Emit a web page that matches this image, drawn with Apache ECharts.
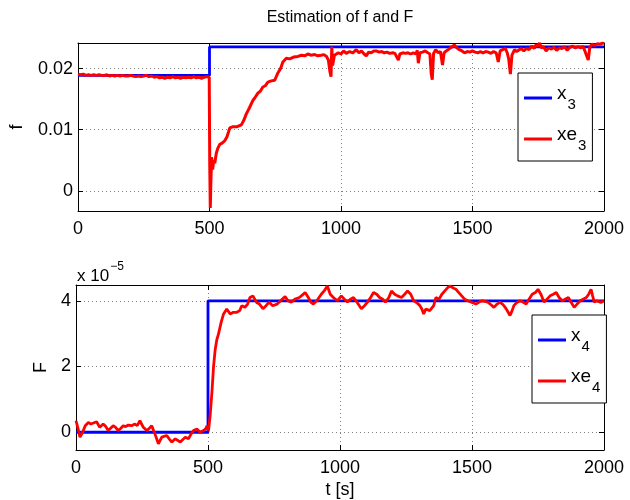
<!DOCTYPE html>
<html>
<head>
<meta charset="utf-8">
<script src="https://cdn.jsdelivr.net/npm/echarts@6/dist/echarts.min.js"></script>
<style>
html, body { margin: 0; padding: 0; background: #fff; }
#chart { width: 630px; height: 500px; }
</style>
</head>
<body>
<div id="chart"></div>
<script>
// tick positions
const tTicks = [0, 500, 1000, 1500, 2000];
const fTicks = [0, 0.01, 0.02];
const FTicks = [0, 2, 4];

// top panel: f (true x3 and estimate xe3)
const x3 = [[0, 0.0189], [500, 0.0189], [500, 0.02355], [2000, 0.02355]];
const xe3 = [
  [0,0.0191],[10,0.0190],[20,0.0191],[30,0.0189],[40,0.0190],[50,0.0189],[60,0.0190],[70,0.0189],[80,0.0190],[90,0.0189],
  [100,0.0189],[110,0.0190],[120,0.0188],[130,0.0189],[140,0.0188],[150,0.0189],[160,0.0188],[170,0.0189],[180,0.0188],[190,0.0188],
  [200,0.0189],[210,0.0188],[220,0.0187],[230,0.0188],[240,0.0187],[250,0.0188],[260,0.0189],[270,0.0187],[280,0.0188],[290,0.0186],
  [300,0.0187],[310,0.0185],[320,0.0186],[330,0.0184],[340,0.0186],[350,0.0185],[360,0.0187],[370,0.0185],[380,0.0186],[390,0.0184],
  [400,0.0186],[410,0.0185],[420,0.0186],[430,0.0185],[440,0.0187],[450,0.0185],[460,0.0186],[470,0.0184],[480,0.0186],[490,0.0187],
  [496,0.0190],[499,0.0186],[501,0.0040],[503,-0.0028],[505,0.0010],[508,0.0055],[512,0.0035],[516,0.0050],[520,0.0045],[526,0.0062],
  [532,0.0070],[539,0.0076],[548,0.0078],[558,0.0082],[566,0.0088],[572,0.0096],[577,0.0103],[590,0.0105],[605,0.0105],[621,0.0108],
  [630,0.0115],[640,0.0126],[652,0.0136],[665,0.0148],[672,0.0152],[684,0.0160],[693,0.0163],[703,0.0170],[712,0.0172],[722,0.0178],
  [735,0.0180],[748,0.0181],[760,0.0193],[770,0.0200],[779,0.0211],[792,0.0217],[805,0.0216],[820,0.0219],[836,0.0220],[850,0.0222],
  [862,0.0221],[874,0.0224],[885,0.0222],[900,0.0223],[912,0.0221],[924,0.0222],[935,0.0223],[945,0.0220],[952,0.0214],[958,0.0195],
  [962,0.0187],[965,0.0236],[968,0.0205],[975,0.0222],[982,0.0224],[990,0.0226],[1000,0.0224],[1010,0.0229],[1020,0.0225],[1033,0.0228],
  [1045,0.0226],[1058,0.0231],[1068,0.0226],[1078,0.0229],[1088,0.0224],[1096,0.0221],[1105,0.0227],[1115,0.0226],[1125,0.0229],[1134,0.0229],
  [1145,0.0227],[1155,0.0228],[1165,0.0226],[1175,0.0227],[1185,0.0225],[1197,0.0226],[1205,0.0225],[1212,0.0222],[1218,0.0214],[1224,0.0224],
  [1235,0.0226],[1245,0.0225],[1255,0.0226],[1265,0.0224],[1275,0.0226],[1285,0.0224],[1290,0.0230],[1294,0.0209],[1300,0.0226],[1310,0.0227],
  [1320,0.0229],[1330,0.0226],[1338,0.0224],[1343,0.0192],[1347,0.0182],[1352,0.0225],[1360,0.0231],[1370,0.0226],[1378,0.0228],[1386,0.0206],
  [1392,0.0226],[1400,0.0229],[1410,0.0232],[1420,0.0235],[1431,0.0239],[1440,0.0234],[1450,0.0231],[1460,0.0229],[1470,0.0226],[1480,0.0228],
  [1490,0.0227],[1500,0.0229],[1510,0.0227],[1520,0.0226],[1530,0.0228],[1540,0.0226],[1550,0.0228],[1560,0.0227],[1570,0.0225],[1580,0.0228],
  [1590,0.0226],[1598,0.0211],[1605,0.0229],[1615,0.0231],[1625,0.0233],[1632,0.0226],[1638,0.0215],[1644,0.0191],[1650,0.0222],[1660,0.0231],
  [1668,0.0228],[1675,0.0230],[1685,0.0233],[1695,0.0229],[1705,0.0233],[1715,0.0231],[1725,0.0237],[1735,0.0233],[1742,0.0240],[1748,0.0236],
  [1755,0.0242],[1762,0.0234],[1770,0.0236],[1780,0.0229],[1790,0.0234],[1800,0.0232],[1810,0.0235],[1820,0.0230],[1830,0.0234],[1840,0.0233],
  [1850,0.0236],[1860,0.0230],[1870,0.0235],[1880,0.0237],[1890,0.0234],[1903,0.0236],[1912,0.0234],[1920,0.0237],[1928,0.0228],[1935,0.0230],
  [1940,0.0214],[1946,0.0235],[1955,0.0240],[1965,0.0238],[1975,0.0241],[1985,0.0240],[1993,0.0242],[2000,0.0241]
];

// bottom panel: F in units of 1e-5 (true x4 and estimate xe4)
const x4 = [[0, 0], [500, 0], [500, 4], [2000, 4]];
const xe4 = [
  [0,0.35],[8,0.1],[15,-0.15],[25,0.0],[35,0.2],[47,0.3],[56,0.25],[66,0.28],[78,0.32],[90,0.15],
  [103,0.25],[112,0.18],[122,0.05],[131,0.12],[141,0.2],[150,0.15],[160,0.05],[170,0.12],[179,0.2],[188,0.17],
  [198,0.22],[210,0.2],[223,0.25],[232,0.2],[242,0.35],[255,0.15],[268,0.05],[278,0.12],[287,0.2],[299,-0.05],
  [312,-0.35],[325,-0.15],[335,-0.12],[344,-0.1],[353,-0.2],[363,-0.3],[376,-0.2],[386,-0.25],[395,-0.3],[405,-0.22],
  [414,-0.15],[426,-0.2],[436,-0.05],[445,0.05],[458,0.1],[470,0.0],[483,0.05],[491,0.1],[496,0.2],[502,0.05],
  [508,0.5],[515,1.23],[521,2.0],[527,2.5],[533,2.8],[540,3.0],[550,3.35],[559,3.6],[571,3.75],[584,3.6],
  [596,3.65],[609,3.65],[620,3.7],[628,3.85],[640,3.8],[650,3.9],[659,4.1],[670,4.15],[684,3.95],[695,3.9],
  [708,3.76],[720,3.85],[731,3.96],[745,3.85],[762,3.9],[775,4.0],[792,4.13],[803,4.0],[815,3.96],[830,4.05],
  [846,4.1],[858,4.18],[868,4.25],[880,4.1],[890,3.95],[899,3.9],[912,4.0],[929,4.2],[940,4.3],[952,4.45],
  [963,4.2],[975,4.1],[990,4.0],[1005,4.15],[1017,4.05],[1028,3.96],[1040,4.05],[1051,4.1],[1065,3.95],[1081,3.76],
  [1093,3.85],[1104,3.96],[1116,4.1],[1127,4.25],[1139,4.2],[1150,4.1],[1162,4.05],[1172,3.96],[1185,4.1],[1195,4.3],
  [1207,4.2],[1218,4.15],[1233,4.1],[1245,4.2],[1256,4.3],[1268,4.2],[1279,4.0],[1290,3.95],[1302,3.86],[1310,3.75],
  [1317,3.6],[1325,3.75],[1332,3.8],[1340,3.7],[1347,3.66],[1355,3.85],[1363,4.1],[1375,4.05],[1386,4.2],[1397,4.3],
  [1408,4.4],[1416,4.45],[1423,4.5],[1431,4.38],[1439,4.35],[1450,4.25],[1461,4.15],[1472,4.05],[1484,4.0],[1500,3.95],
  [1515,3.9],[1527,3.96],[1538,4.0],[1549,3.98],[1560,3.96],[1572,3.88],[1583,3.8],[1595,3.9],[1606,3.96],[1618,3.88],
  [1629,3.76],[1637,3.65],[1644,3.55],[1652,3.7],[1659,3.86],[1670,3.95],[1682,4.0],[1693,3.96],[1705,3.9],[1716,4.05],
  [1728,4.2],[1740,4.25],[1750,4.35],[1761,4.2],[1773,3.96],[1784,4.05],[1796,4.15],[1808,4.2],[1819,4.25],[1830,4.1],
  [1842,4.0],[1853,4.05],[1865,4.1],[1876,3.95],[1887,3.8],[1898,3.9],[1910,4.0],[1921,4.05],[1933,4.1],[1942,4.2],
  [1951,4.35],[1957,4.15],[1963,3.96],[1972,4.0],[1979,4.05],[1988,3.95],[2000,4.0]
];

const legendLabels = { x3: ['x', '3'], xe3: ['xe', '3'], x4: ['x', '4'], xe4: ['xe', '4'] };

const FONT = 'Liberation Sans, Arial, Helvetica, sans-serif';
const gridLine = { show: true, lineStyle: { color: '#808080', type: [1, 3], width: 1 } };

function xAxisPair(gridIndex, withName) {
  return [{
    gridIndex: gridIndex, type: 'value', min: 0, max: 2000,
    axisLine: { onZero: false, lineStyle: { color: '#000', width: 1 } },
    axisTick: { inside: true, length: 5, lineStyle: { color: '#000' }, customValues: tTicks },
    axisLabel: { color: '#000', fontSize: 18, fontFamily: FONT, margin: 9, customValues: tTicks,
      formatter: function (v) { return String(v); } },
    splitLine: gridLine,
    name: withName ? 't [s]' : '', nameLocation: 'middle', nameGap: 31,
    nameTextStyle: { color: '#000', fontSize: 18, fontFamily: FONT }
  }, {
    gridIndex: gridIndex, type: 'value', position: 'top', min: 0, max: 2000,
    axisLine: { onZero: false, lineStyle: { color: '#000', width: 1 } },
    axisTick: { inside: true, length: 5, lineStyle: { color: '#000' }, customValues: tTicks },
    axisLabel: { show: false }, splitLine: { show: false }
  }];
}

function yAxisPair(gridIndex, min, max, ticks, name, nameGap, fmt) {
  return [{
    gridIndex: gridIndex, type: 'value', min: min, max: max,
    axisLine: { onZero: false, lineStyle: { color: '#000', width: 1 } },
    axisTick: { inside: true, length: 5, lineStyle: { color: '#000' }, customValues: ticks },
    axisLabel: { color: '#000', fontSize: 18, fontFamily: FONT, margin: 5, customValues: ticks, formatter: fmt },
    splitLine: gridLine,
    name: name, nameLocation: 'middle', nameGap: nameGap, nameRotate: 90,
    nameTextStyle: { color: '#000', fontSize: 18, fontFamily: FONT }
  }, {
    gridIndex: gridIndex, type: 'value', position: 'right', min: min, max: max,
    axisLine: { onZero: false, lineStyle: { color: '#000', width: 1 } },
    axisTick: { inside: true, length: 5, lineStyle: { color: '#000' }, customValues: ticks },
    axisLabel: { show: false }, splitLine: { show: false }
  }];
}

function legendBox(names, left, top) {
  return {
    data: names, orient: 'vertical', left: left, top: top,
    padding: [10, 6, 8, 6], itemGap: 12,
    backgroundColor: '#fff', borderColor: '#000', borderWidth: 1, borderRadius: 0,
    icon: 'rect', itemWidth: 28, itemHeight: 3,
    formatter: function (n) { return '{m|' + legendLabels[n][0] + '}{s|' + legendLabels[n][1] + '}'; },
    textStyle: {
      color: '#000', fontFamily: FONT,
      rich: {
        m: { fontSize: 19, fontFamily: FONT, color: '#000', lineHeight: 28, verticalAlign: 'top', padding: [0, 0, 8, 0] },
        s: { fontSize: 15, fontFamily: FONT, color: '#000', lineHeight: 28, verticalAlign: 'bottom', padding: [14, 0, 0, 1] }
      }
    }
  };
}

const chart = echarts.init(document.getElementById('chart'), null, { renderer: 'canvas' });

chart.setOption({
  backgroundColor: '#fff',
  animation: false,
  grid: [
    { left: 76, top: 43, width: 528, height: 168, show: true, borderWidth: 0, backgroundColor: '#fff' },
    { left: 76, top: 285, width: 528, height: 168, show: true, borderWidth: 0, backgroundColor: '#fff' }
  ],
  xAxis: xAxisPair(0, false).concat(xAxisPair(1, true)),
  yAxis: yAxisPair(0, -0.0033, 0.0242, fTicks, 'f', 52, function (v) {
      return Math.abs(v) < 1e-9 ? '0' : v.toFixed(2);
    })
    .concat(yAxisPair(1, -0.54, 4.48, FTicks, 'F', 13, function (v) { return String(Math.round(v)); })),
  legend: [legendBox(['x3', 'xe3'], 518, 73), legendBox(['x4', 'xe4'], 532, 315)],
  graphic: [
    { type: 'text', x: 340, y: 18,
      style: { text: 'Estimation of f and F', fill: '#000', font: '16px ' + FONT, align: 'center', verticalAlign: 'middle' } },
    { type: 'text', x: 77, y: 261,
      style: { text: '{a|x 10}{b|\u22125}', fill: '#000', font: '17px ' + FONT,
        rich: { a: { fontSize: 17, fontFamily: FONT, padding: [7, 0, 0, 0] }, b: { fontSize: 12, fontFamily: FONT, verticalAlign: 'top', padding: [0, 0, 8, 1] } } } }
  ],
  series: [
    { name: 'x3', type: 'line', xAxisIndex: 0, yAxisIndex: 0, data: x3, showSymbol: false,
      lineStyle: { color: '#0000ff', width: 2.8 }, itemStyle: { color: '#0000ff' } },
    { name: 'xe3', type: 'line', xAxisIndex: 0, yAxisIndex: 0, data: xe3, showSymbol: false,
      lineStyle: { color: '#ff0000', width: 3 }, itemStyle: { color: '#ff0000' } },
    { name: 'x4', type: 'line', xAxisIndex: 2, yAxisIndex: 2, data: x4, showSymbol: false,
      lineStyle: { color: '#0000ff', width: 2.8 }, itemStyle: { color: '#0000ff' } },
    { name: 'xe4', type: 'line', xAxisIndex: 2, yAxisIndex: 2, data: xe4, showSymbol: false,
      lineStyle: { color: '#ff0000', width: 2.8 }, itemStyle: { color: '#ff0000' } }
  ]
});
</script>
</body>
</html>
